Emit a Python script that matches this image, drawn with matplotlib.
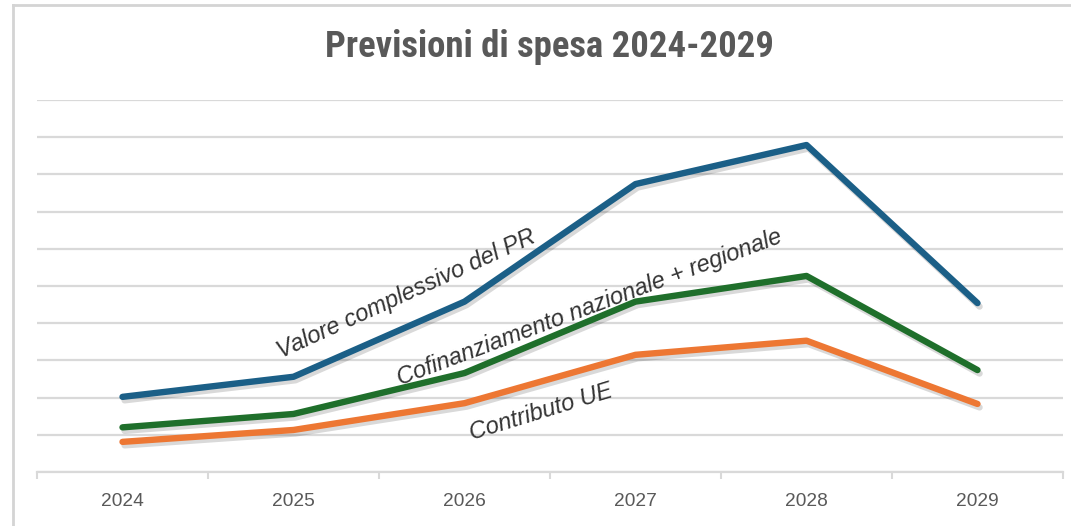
import matplotlib
matplotlib.use("Agg")
import matplotlib.pyplot as plt
import matplotlib.patheffects as pe
from matplotlib.lines import Line2D

# ---- data ----
years = ["2024", "2025", "2026", "2027", "2028", "2029"]
valore_complessivo = [2.02, 2.56, 4.58, 7.74, 8.79, 4.54]
cofinanziamento = [1.20, 1.56, 2.66, 4.58, 5.27, 2.74]
contributo_ue = [0.81, 1.13, 1.85, 3.15, 3.53, 1.83]
y_ticks = list(range(0, 11))

title = "Previsioni di spesa 2024-2029"
label_valore = "Valore complessivo del PR"
label_cofin = "Cofinanziamento nazionale + regionale"
label_ue = "Contributo UE"

W, H = 1071, 526
fig = plt.figure(figsize=(W / 100, H / 100), dpi=100)
fig.patch.set_facecolor("white")

def fx(px):
    return px / W

def fy(py):
    return 1 - py / H

ax = fig.add_axes([fx(37), fy(472), fx(1063) - fx(37), fy(100) - fy(472)])
ax.set_facecolor("white")

grid_col = "#d9d9d9"
text_gray = "#595959"
sans = ["Liberation Sans", "Arial", "DejaVu Sans"]
narrow = ["Liberation Sans Narrow", "Roboto Condensed", "DejaVu Sans Condensed", "Liberation Sans", "DejaVu Sans"]

x = list(range(len(years)))
series = [
    (valore_complessivo, "#1b5f87"),
    (cofinanziamento, "#1f6f2b"),
    (contributo_ue, "#ed7733"),
]
for vals, col in series:
    ax.plot(x, vals, color=col, lw=4.6, solid_capstyle="round", solid_joinstyle="round",
            zorder=3,
            path_effects=[pe.SimpleLineShadow(offset=(1.5, -2.5), shadow_color="black", alpha=0.15),
                          pe.Normal()])

ax.set_xlim(-0.5, len(years) - 0.5)
ax.set_ylim(0, 10)
ax.set_yticks(y_ticks)
ax.yaxis.grid(True, color=grid_col, lw=1.6)
ax.set_axisbelow(True)
ax.tick_params(axis="y", length=0, labelleft=False)

# category boundaries as major ticks, labels at centers as minor ticks
ax.set_xticks([i - 0.5 for i in range(len(years) + 1)])
ax.set_xticklabels([])
ax.tick_params(axis="x", which="major", length=5, width=1.5, color=grid_col, direction="out")
ax.set_xticks(x, minor=True)
ax.set_xticklabels(years, minor=True, fontsize=13.8, color=text_gray, family=sans)
ax.tick_params(axis="x", which="minor", length=0, pad=15)

for s in ["left", "right", "top"]:
    ax.spines[s].set_visible(False)
ax.spines["bottom"].set_color(grid_col)
ax.spines["bottom"].set_linewidth(1.6)

# title
fig.text(fx(549), fy(47), title, ha="center", va="center", fontsize=26.5, fontweight="bold",
         color=text_gray, family=narrow)

# inline labels
lab_col = "#333333"
fig.text(fx(406), fy(294), label_valore, ha="center", va="center", rotation=24.5,
         rotation_mode="anchor", fontsize=17, style="italic", color=lab_col, family=sans)
fig.text(fx(590), fy(308), label_cofin, ha="center", va="center", rotation=20.5,
         rotation_mode="anchor", fontsize=17, style="italic", color=lab_col, family=sans)
fig.text(fx(541), fy(412), label_ue, ha="center", va="center", rotation=17,
         rotation_mode="anchor", fontsize=17, style="italic", color=lab_col, family=sans)

# outer frame (top and left edges visible)
fig.add_artist(Line2D([fx(13), 1.0], [fy(5), fy(5)], color="#d4d4d4", lw=2, transform=fig.transFigure))
fig.add_artist(Line2D([fx(13), fx(13)], [fy(5), 0.0], color="#d4d4d4", lw=2, transform=fig.transFigure))

fig.savefig("out.png", dpi=100, facecolor="white")
